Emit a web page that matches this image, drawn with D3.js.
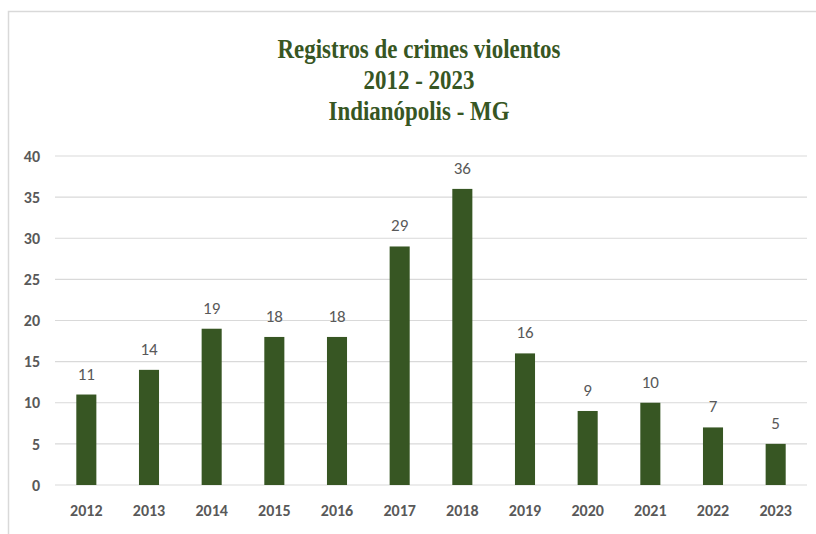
<!DOCTYPE html>
<html lang="pt">
<head>
<meta charset="UTF-8">
<script src="https://cdn.jsdelivr.net/npm/d3@7/dist/d3.min.js"></script>
<style>
  * { margin: 0; padding: 0; box-sizing: border-box; }
  body { background: #fff; width: 816px; height: 534px; overflow: hidden; }
  svg { display: block; }
</style>
</head>
<body>
<svg id="chart" width="816" height="534"></svg>
<script>
  // dados
  var years = ['2012', '2013', '2014', '2015', '2016', '2017', '2018', '2019', '2020', '2021', '2022', '2023'];
  var crimes = [11, 14, 19, 18, 18, 29, 36, 16, 9, 10, 7, 5];
  var yTicks = [0, 5, 10, 15, 20, 25, 30, 35, 40];
  var titleLines = ['Registros de crimes violentos', '2012 - 2023', 'Indianópolis - MG'];

  var svg = d3.select('#chart');
  var green = '#375623';
  var labelFont = 'Carlito, "Open Sans", sans-serif';

  // moldura da área do gráfico
  svg.append('rect')
    .attr('x', 8.5).attr('y', 11.5)
    .attr('width', 830).attr('height', 540)
    .attr('fill', '#fff')
    .attr('stroke', '#d9d9d9')
    .attr('stroke-width', 1.5);

  var x = d3.scaleBand().domain(years).range([55, 807]).paddingInner(0.68).paddingOuter(0.34);
  var y = d3.scaleLinear().domain([0, 40]).range([485, 156]);

  // grade
  svg.append('g').selectAll('line')
    .data(yTicks)
    .join('line')
    .attr('x1', 55).attr('x2', 807)
    .attr('y1', function (d) { return y(d); })
    .attr('y2', function (d) { return y(d); })
    .attr('stroke', '#d9d9d9')
    .attr('stroke-width', 1.2);

  // eixo y
  var yAxis = svg.append('g')
    .attr('transform', 'translate(40,0)')
    .call(d3.axisLeft(y).tickValues(yTicks).tickSize(0).tickPadding(0));
  yAxis.select('.domain').remove();
  yAxis.selectAll('text')
    .attr('fill', '#595959')
    .style('font-family', labelFont)
    .style('font-size', '16px')
    .style('font-weight', '600');

  // eixo x
  var xAxis = svg.append('g')
    .attr('transform', 'translate(0,505)')
    .call(d3.axisBottom(x).tickSize(0).tickPadding(0));
  xAxis.select('.domain').remove();
  xAxis.selectAll('text')
    .attr('fill', '#595959')
    .style('font-family', labelFont)
    .style('font-size', '16px')
    .style('font-weight', '600');

  // barras
  svg.append('g').selectAll('rect')
    .data(crimes)
    .join('rect')
    .attr('x', function (d, i) { return x(years[i]); })
    .attr('y', function (d) { return y(d); })
    .attr('width', x.bandwidth())
    .attr('height', function (d) { return y(0) - y(d); })
    .attr('fill', green);

  // rótulos de dados
  svg.append('g').selectAll('text')
    .data(crimes)
    .join('text')
    .attr('x', function (d, i) { return x(years[i]) + x.bandwidth() / 2; })
    .attr('y', function (d) { return y(d) - 15; })
    .attr('text-anchor', 'middle')
    .attr('fill', '#595959')
    .style('font-family', labelFont)
    .style('font-size', '17px')
    .text(function (d) { return d; });

  // título
  svg.append('g').selectAll('text')
    .data(titleLines)
    .join('text')
    .attr('transform', function (d, i) { return 'translate(419,' + (58 + i * 31) + ') scale(0.85,1.04)'; })
    .attr('text-anchor', 'middle')
    .attr('fill', green)
    .style('font-family', '"Liberation Serif", "Times New Roman", serif')
    .style('font-weight', 'bold')
    .style('font-size', '27px')
    .text(function (d) { return d; });
</script>
</body>
</html>
